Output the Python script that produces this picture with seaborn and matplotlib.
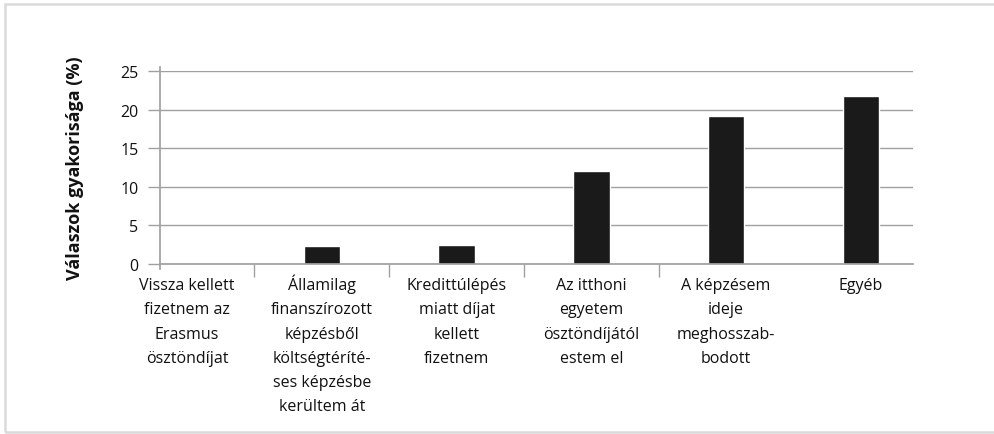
import seaborn as sns
import matplotlib.pyplot as plt
import matplotlib.patches as mpatches
import pandas as pd

# Data
categories = [
    "Vissza kellett\nfizetnem az\nErasmus\nösztöndíjat",
    "Államilag\nfinanszírozott\nképzésből\nköltségtéríté-\nses képzésbe\nkerültem át",
    "Kredittúlépés\nmiatt díjat\nkellett\nfizetnem",
    "Az itthoni\negyetem\nösztöndíjától\nestem el",
    "A képzésem\nideje\nmeghosszab-\nbodott",
    "Egyéb",
]
values = [0, 2.3, 2.4, 12.1, 19.2, 21.8]
yticks = [0, 5, 10, 15, 20, 25]

df = pd.DataFrame({"kategoria": categories, "ertek": values})

sns.set_theme(style="white")
plt.rcParams['font.family'] = ['Open Sans', 'DejaVu Sans']

fig = plt.figure(figsize=(9.94, 4.35), dpi=100)
ax = fig.add_axes([0.161, 0.391, 0.758, 0.443])

sns.barplot(data=df, x="kategoria", y="ertek", color="#1a1a1a", width=0.27,
            saturation=1, ax=ax)

ax.set_ylim(0, 25)
ax.set_xlim(-0.2, 5.39)
ax.set_yticks(yticks)
ax.yaxis.grid(True, color="#a0a0a0", linewidth=1)
ax.set_axisbelow(True)

for s in ["top", "right"]:
    ax.spines[s].set_visible(False)
ax.spines["left"].set_color("#a0a0a0")
ax.spines["bottom"].set_color("#a0a0a0")
ax.spines["left"].set_bounds(-0.6, 25.6)

ax.tick_params(axis="y", length=8.5, width=1, color="#a0a0a0", direction="out",
               labelsize=11.5, pad=7, left=True)
ax.tick_params(axis="x", length=0, labelbottom=False)
ax.set_xticks([0.5, 1.5, 2.5, 3.5], minor=True)
ax.tick_params(axis="x", which="minor", length=9, width=1, color="#a0a0a0",
               direction="out", bottom=True)
for lbl in ax.get_yticklabels():
    lbl.set_color("#111111")

# category labels, line by line so every first line sits on the same baseline
for i, cat in enumerate(categories):
    for j, line in enumerate(cat.split("\n")):
        ax.annotate(line, xy=(i, 0), xycoords=("data", "axes fraction"),
                    xytext=(0, -18.4 - j * 17.3), textcoords="offset points",
                    ha="center", va="baseline", fontsize=11.5, color="#111111")

ax.set_xlabel("")
ax.set_ylabel("Válaszok gyakorisága (%)", fontsize=13, fontweight="bold",
              color="#111111", labelpad=26)

# light frame (right side cut off, as in the scan)
fig.patches.append(mpatches.Rectangle((0.0055, 0.004), 1.2, 0.9855,
                                      transform=fig.transFigure, fill=False,
                                      edgecolor="#dadada", linewidth=1.8))

plt.savefig("out.png", dpi=100, facecolor="white")
